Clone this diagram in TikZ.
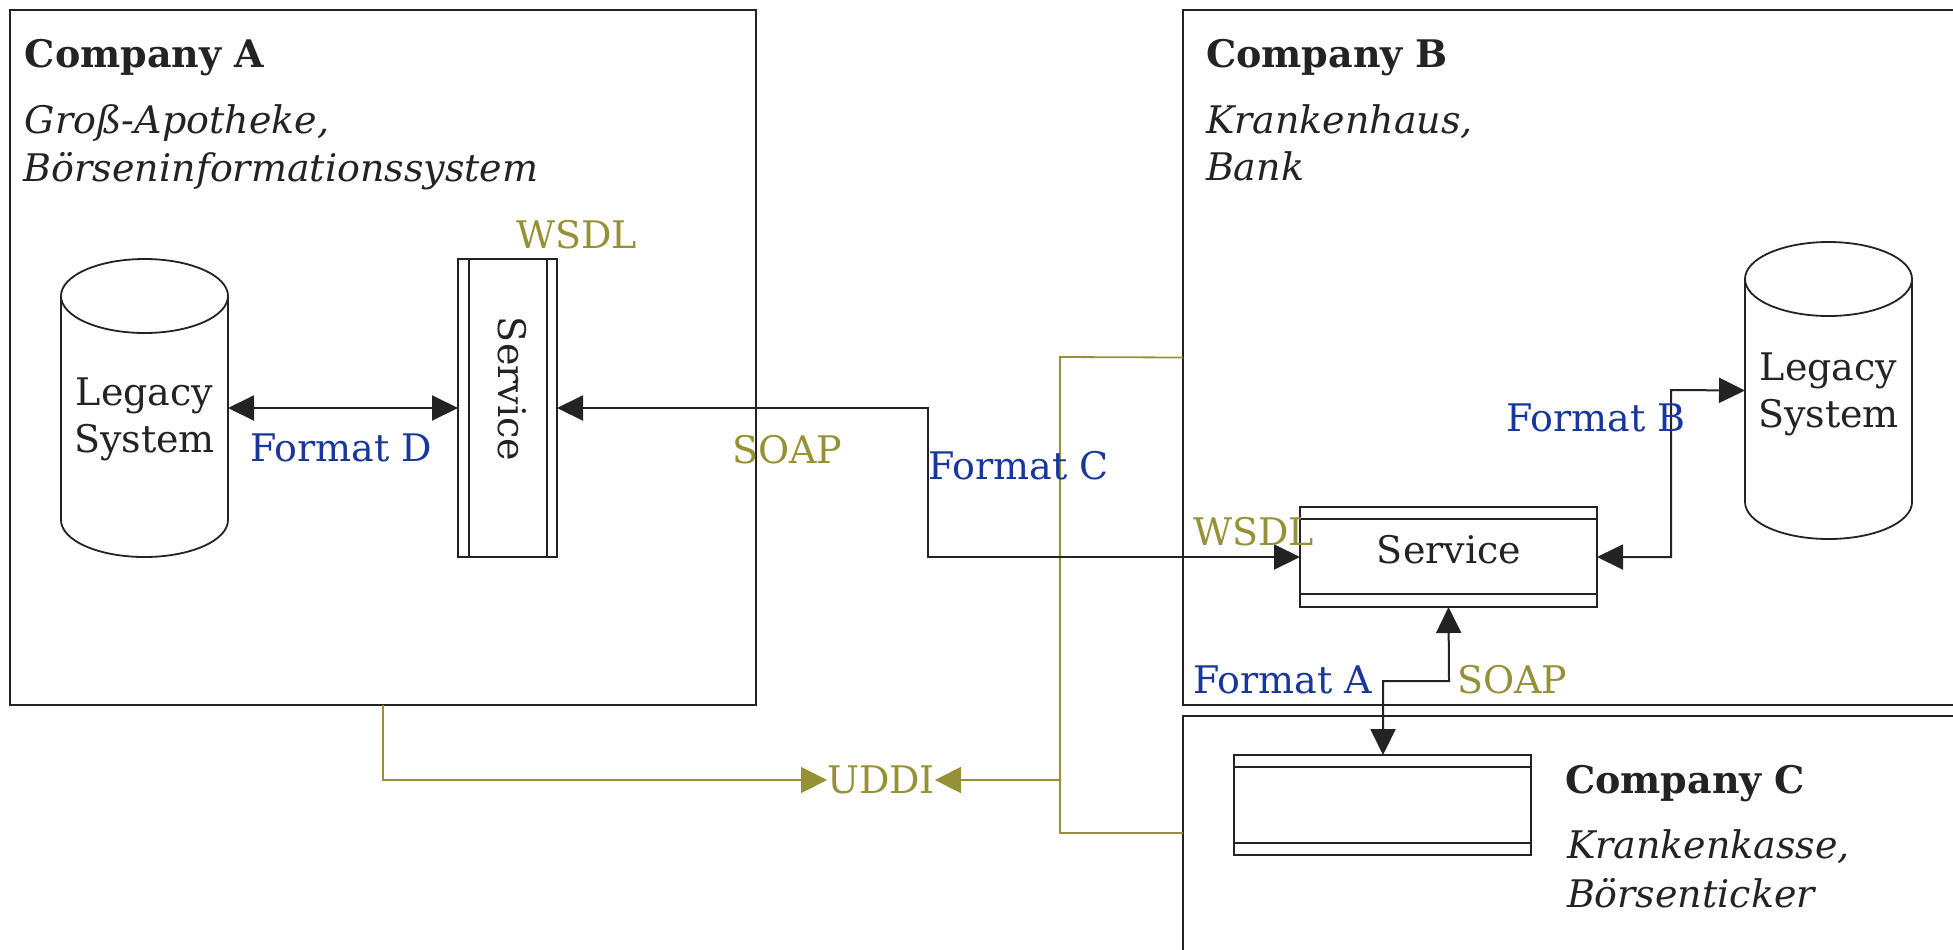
\documentclass[tikz,border=0pt]{standalone}
\usepackage{fontspec}
\setmainfont{DejaVu Serif}
\usetikzlibrary{arrows.meta}
\definecolor{ink}{RGB}{35,35,35}
\definecolor{olv}{RGB}{150,145,55}
\definecolor{fmt}{RGB}{25,55,155}
\tikzset{
  every node/.style={inner sep=0pt, outer sep=0pt},
  txt/.style={anchor=base west, font=\fontsize{19pt}{23.5pt}\selectfont, text=ink},
  title/.style={txt, font=\fontsize{19pt}{23.5pt}\selectfont\bfseries},
  sub/.style={txt, font=\fontsize{19pt}{23.5pt}\selectfont\itshape},
  wsdl/.style={txt, text=olv},
  format/.style={txt, text=fmt},
  company/.style={draw=ink, line width=1pt},
  svc/.style={draw=ink, line width=1pt},
  db/.style={},
  dbtext/.style={align=center, font=\fontsize{19pt}{23.5pt}\selectfont, text=ink},
  link/.style={draw=ink, line width=1pt, {Triangle[length=13pt,width=12.5pt]}-{Triangle[length=13pt,width=12.5pt]}},
  reg/.style={draw=olv, line width=0.9pt},
  regtip/.style={reg, -{Triangle[length=13pt,width=13pt]}, olv},
}
\begin{document}
\begin{tikzpicture}[x=0.5pt,y=-0.5pt]
\useasboundingbox (0,0) rectangle (1953,949);
\clip (0,0) rectangle (1953,949);
\fill[white] (0,0) rectangle (1953,949);

% companies
\node[company, minimum width=373pt, minimum height=347.5pt] (coA) at (383,357.5) {};
\node[company, minimum width=408.5pt, minimum height=347.5pt] (coB) at (1591.5,357.5) {};
\node[company, minimum width=408.5pt, minimum height=142pt] (coC) at (1591.5,858) {};

\node[title] (tA) at (25,67) {Company A};
\node[sub] (sA1) at (25,133) {Groß-Apotheke,};
\node[sub] (sA2) at (24,181) {Börseninformationssystem};

\node[title] (tB) at (1206,67) {Company B};
\node[sub] (sB1) at (1206,133) {Krankenhaus,};
\node[sub] (sB2) at (1206,180) {Bank};

\node[title] (tC) at (1565,793) {Company C};
\node[sub] (sC1) at (1567,858) {Krankenkasse,};
\node[sub] (sC2) at (1567,907) {Börsenticker};

% legacy databases
\node[db, minimum width=83.5pt, minimum height=149pt] (legA) at (144.5,408) {};
\draw[ink, line width=0.9pt] (144.5,296) ellipse [x radius=41.75pt, y radius=18.5pt];
\draw[ink, line width=0.9pt] (legA.west |- 0,296) -- (legA.west |- 0,520)
  arc[start angle=180, end angle=360, x radius=41.75pt, y radius=18.5pt]
  -- (legA.east |- 0,296);
\node[dbtext] (legAt) at (144.5,419) {Legacy\\System};

\node[db, minimum width=83.5pt, minimum height=148.5pt] (legB) at (1828.5,390.5) {};
\draw[ink, line width=0.9pt] (1828.5,279) ellipse [x radius=41.75pt, y radius=18.5pt];
\draw[ink, line width=0.9pt] (legB.west |- 0,279) -- (legB.west |- 0,502)
  arc[start angle=180, end angle=360, x radius=41.75pt, y radius=18.5pt]
  -- (legB.east |- 0,279);
\node[dbtext] (legBt) at (1828.5,394) {Legacy\\System};

% services
\node[svc, minimum width=49.5pt, minimum height=149pt] (svcA) at (507.5,408) {};
\draw[ink, line width=0.9pt] ([xshift=5.5pt]svcA.north west) -- ([xshift=5.5pt]svcA.south west)
  ([xshift=-5pt]svcA.north east) -- ([xshift=-5pt]svcA.south east);
\node[txt, anchor=center, rotate=-90] (svcAt) at (512,389) {Service};

\node[svc, minimum width=148.5pt, minimum height=50pt] (svcB) at (1448.5,557) {};
\draw[ink, line width=0.9pt] ([yshift=-6pt]svcB.north west) -- ([yshift=-6pt]svcB.north east)
  ([yshift=6.5pt]svcB.south west) -- ([yshift=6.5pt]svcB.south east);
\node[txt, anchor=base] (svcBt) at (1449,563) {Service};

\node[svc, minimum width=148.5pt, minimum height=50pt] (svcC) at (1382.5,805) {};
\draw[ink, line width=0.9pt] ([yshift=-6pt]svcC.north west) -- ([yshift=-6pt]svcC.north east)
  ([yshift=6pt]svcC.south west) -- ([yshift=6pt]svcC.south east);

% registry
\node[txt, text=olv] (uddi) at (827,793) {UDDI};
\coordinate (busTop) at (1060,357);
\coordinate (busBot) at (1060,833);
\coordinate (busMid) at (1060,780);
\draw[reg] (coB.west) -- (busTop) -- (busBot) -- (coC.west |- busBot);
\draw[regtip] (busMid) -- (uddi.east |- busMid);
\draw[regtip] (coA.south) -- (coA.south |- busMid) -- (uddi.west |- busMid);

% message links
\draw[link] (legA.east) -- (svcA.west);
\draw[link] (svcA.east) -- (928,408) -- (928,557) -- (svcB.west);
\draw[link] (svcB.east) -- (1671,557) -- (1671,390) -- (legB.west);
\draw[link] (svcB.south) -- (1449,681) -- (1383,681) -- (svcC.north -| 1383,0);

% link labels
\node[wsdl] (wA) at (516,248) {WSDL};
\node[format] (fD) at (250,461) {Format D};
\node[wsdl] (soapA) at (732,463) {SOAP};
\node[format] (fC) at (928,479) {Format C};
\node[wsdl] (wB) at (1193,545) {WSDL};
\node[format] (fB) at (1506,431) {Format B};
\node[format] (fA) at (1193,693) {Format A};
\node[wsdl] (soapB) at (1457,693) {SOAP};
\end{tikzpicture}
\end{document}
